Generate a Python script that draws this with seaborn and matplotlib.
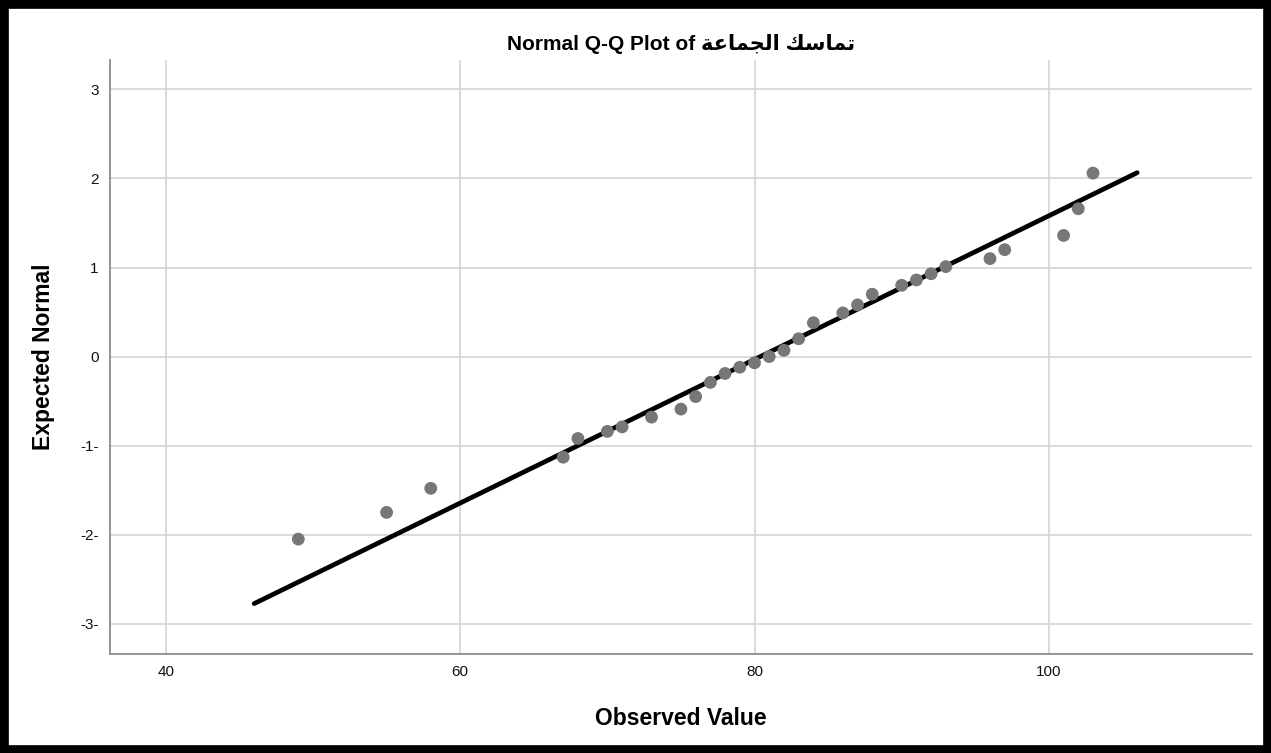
import numpy as np
import pandas as pd
import seaborn as sns
import matplotlib.pyplot as plt
from matplotlib.patches import Rectangle

# observed scores and their expected normal values
observed = [49, 55, 58, 67, 68, 70, 71, 73, 75, 76, 77, 78, 79, 80, 81, 82, 83, 84,
            86, 87, 88, 90, 91, 92, 93, 96, 97, 101, 102, 103]
expected = [-2.05, -1.75, -1.48, -1.13, -0.92, -0.84, -0.79, -0.68, -0.59, -0.45,
            -0.29, -0.19, -0.12, -0.07, 0.00, 0.07, 0.20, 0.38, 0.49, 0.58, 0.70,
            0.80, 0.86, 0.93, 1.01, 1.10, 1.20, 1.36, 1.66, 2.06]
mean_val = 80.4
sd_val = 12.4
line_x = [46, 106]
x_ticks = [40, 60, 80, 100]
y_ticks = [-3, -2, -1, 0, 1, 2, 3]
y_tick_labels = ['-3-', '-2-', '-1-', '0', '1', '2', '3']
var_name = 'تماسك الجماعة'

# matplotlib has no arabic shaping, so do the few letters we need by hand
forms = {  # isolated, final, initial, medial
    'ت': ('\ufe95', '\ufe96', '\ufe97', '\ufe98'),
    'م': ('\ufee1', '\ufee2', '\ufee3', '\ufee4'),
    'ا': ('\ufe8d', '\ufe8e', '\ufe8d', '\ufe8e'),
    'س': ('\ufeb1', '\ufeb2', '\ufeb3', '\ufeb4'),
    'ك': ('\ufed9', '\ufeda', '\ufedb', '\ufedc'),
    'ل': ('\ufedd', '\ufede', '\ufedf', '\ufee0'),
    'ج': ('\ufe9d', '\ufe9e', '\ufe9f', '\ufea0'),
    'ع': ('\ufec9', '\ufeca', '\ufecb', '\ufecc'),
    'ة': ('\ufe93', '\ufe94', '\ufe93', '\ufe94'),
}
no_join_next = set('اة')


def shape(s):
    out = []
    for i, c in enumerate(s):
        if c not in forms:
            out.append(c)
            continue
        prev = s[i - 1] if i > 0 else ' '
        nxt = s[i + 1] if i + 1 < len(s) else ' '
        join_prev = prev in forms and prev not in no_join_next
        join_next = nxt in forms and c not in no_join_next
        if join_prev and join_next:
            out.append(forms[c][3])
        elif join_prev:
            out.append(forms[c][1])
        elif join_next:
            out.append(forms[c][2])
        else:
            out.append(forms[c][0])
    return ''.join(out)[::-1]


df = pd.DataFrame({'observed': observed, 'expected': expected})
line_df = pd.DataFrame({'x': line_x})
line_df['y'] = (line_df['x'] - mean_val) / sd_val

sns.set_style('white')
plt.rcParams['font.family'] = ['Liberation Sans', 'DejaVu Sans']
plt.rcParams['text.color'] = 'black'
plt.rcParams['axes.labelcolor'] = 'black'

fig = plt.figure(figsize=(12.71, 7.53), dpi=100)
ax = fig.add_axes([0.0865, 0.1315, 0.8985, 0.7888])

sns.lineplot(data=line_df, x='x', y='y', color='black', linewidth=3.4, ax=ax, zorder=3)
sns.scatterplot(data=df, x='observed', y='expected', color='#777777', s=85,
                edgecolor='none', ax=ax, zorder=4)

ax.set_xlim(36.2, 113.8)
ax.set_ylim(-3.34, 3.33)
ax.set_xticks(x_ticks)
ax.set_yticks(y_ticks)
ax.set_yticklabels(y_tick_labels)
ax.grid(True, color='#d4d4d4', linewidth=1.2)
ax.set_axisbelow(True)
ax.tick_params(length=0, labelsize=11, colors='#111111', pad=8)

for side in ['top', 'right']:
    ax.spines[side].set_visible(False)
for side in ['left', 'bottom']:
    ax.spines[side].set_color('#8c8c8c')
    ax.spines[side].set_linewidth(1.3)

ax.set_title('Normal Q-Q Plot of ' + shape(var_name), fontsize=15,
             fontweight='bold', pad=7)
ax.set_xlabel('Observed Value', fontsize=16.5, fontweight='bold', labelpad=20)
ax.set_ylabel('Expected Normal', fontsize=16.5, fontweight='bold', labelpad=18)

fig.patches.append(Rectangle((0, 0), 1, 1, transform=fig.transFigure, fill=False,
                             edgecolor='black', linewidth=12))

fig.savefig('out.png', dpi=100)
